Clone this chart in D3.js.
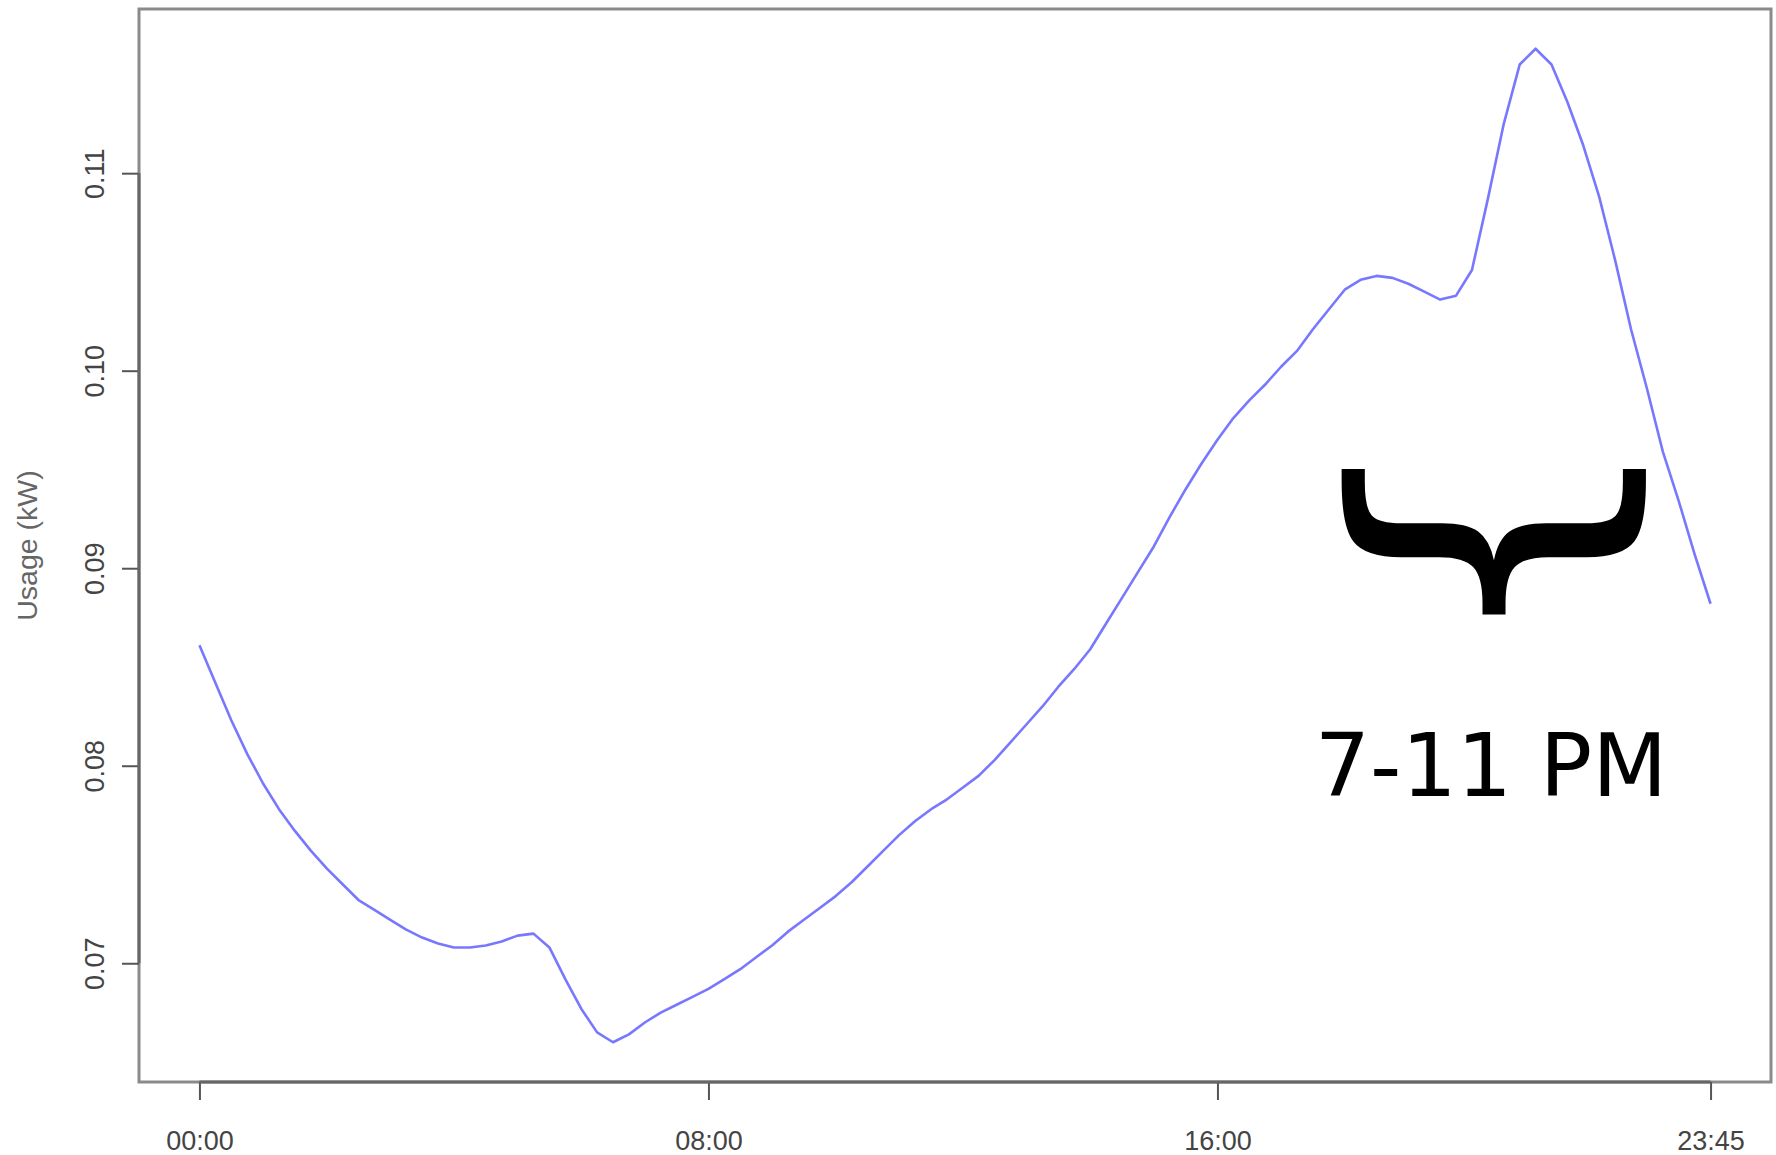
<!DOCTYPE html>
<html><head><meta charset="utf-8">
<script src="https://cdn.jsdelivr.net/npm/d3@7"></script>
<style>html,body{margin:0;padding:0;background:#fff;} svg{display:block;}</style>
</head><body>
<svg id="chart" width="1776" height="1155"></svg>
<script>
// ---- data (96 quarter-hour readings, kW) ----
const usage = [
  0.0861, 0.0842, 0.0823, 0.0806, 0.0791, 0.0778, 0.0767, 0.0757, 0.0748, 0.0740,
  0.0732, 0.0727, 0.0722, 0.0717, 0.0713, 0.0710, 0.0708, 0.0708, 0.0709, 0.0711,
  0.0714, 0.0715, 0.0708, 0.0692, 0.0677, 0.0665, 0.0660, 0.0664, 0.0670, 0.0675,
  0.0679, 0.0683, 0.0687, 0.0692, 0.0697, 0.0703, 0.0709, 0.0716, 0.0722, 0.0728,
  0.0734, 0.0741, 0.0749, 0.0757, 0.0765, 0.0772, 0.0778, 0.0783, 0.0789, 0.0795,
  0.0803, 0.0812, 0.0821, 0.0830, 0.0840, 0.0849, 0.0859, 0.0872, 0.0885, 0.0898,
  0.0911, 0.0926, 0.0940, 0.0953, 0.0965, 0.0976, 0.0985, 0.0993, 0.1002, 0.1010,
  0.1021, 0.1031, 0.1041, 0.1046, 0.1048, 0.1047, 0.1044, 0.1040, 0.1036, 0.1038,
  0.1051, 0.1087, 0.1125, 0.1155, 0.1163, 0.1155, 0.1136, 0.1114, 0.1088, 0.1056,
  0.1021, 0.0991, 0.0959, 0.0934, 0.0907, 0.0882
];
const xTickIndex = [0, 32, 64, 95];
const xTickLabels = ["00:00", "08:00", "16:00", "23:45"];
const yTicks = [0.07, 0.08, 0.09, 0.10, 0.11];
const yTickLabels = ["0.07", "0.08", "0.09", "0.10", "0.11"];
const yTitle = "Usage (kW)";
const annotationLabel = "7-11 PM";
const braceGlyph = "}";

// ---- layout ----
const W = 1776, H = 1155;
const plot = {left: 139, right: 1771, top: 9, bottom: 1082};
const svg = d3.select("#chart");
const axisFont = "'Liberation Sans', Arial, Helvetica, sans-serif";

// R-style 4% axis extension
const n = usage.length;
const xPad = 0.04 * (n - 1);
const x = d3.scaleLinear().domain([0 - xPad, (n - 1) + xPad]).range([plot.left, plot.right]);
const [ymin, ymax] = d3.extent(usage);
const yPad = 0.04 * (ymax - ymin);
const y = d3.scaleLinear().domain([ymin - yPad, ymax + yPad]).range([plot.bottom, plot.top]);

// box
svg.append("rect")
  .attr("x", plot.left).attr("y", plot.top)
  .attr("width", plot.right - plot.left).attr("height", plot.bottom - plot.top)
  .attr("fill", "none").attr("stroke", "#8a8a8a").attr("stroke-width", 3);

// y axis
const gy = svg.append("g").attr("transform", `translate(${plot.left},0)`)
  .call(d3.axisLeft(y).tickValues(yTicks).tickFormat((d, i) => yTickLabels[i]).tickSize(17).tickSizeOuter(0));
gy.select(".domain").remove();
gy.append("line").attr("x1", 0).attr("x2", 0)
  .attr("y1", y(yTicks[0])).attr("y2", y(yTicks[yTicks.length - 1]))
  .attr("stroke", "#666").attr("stroke-width", 3);
gy.selectAll(".tick line").attr("stroke", "#555").attr("stroke-width", 2);
gy.selectAll(".tick text")
  .attr("x", null).attr("dy", null)
  .attr("transform", "translate(-35,0) rotate(-90)")
  .attr("text-anchor", "middle")
  .attr("font-family", axisFont).attr("font-size", 27).attr("fill", "#444");

// x axis
const gx = svg.append("g").attr("transform", `translate(0,${plot.bottom})`)
  .call(d3.axisBottom(x).tickValues(xTickIndex).tickFormat((d, i) => xTickLabels[i]).tickSize(18).tickSizeOuter(0));
gx.select(".domain").remove();
gx.append("line").attr("y1", 0).attr("y2", 0)
  .attr("x1", x(xTickIndex[0])).attr("x2", x(xTickIndex[xTickIndex.length - 1]))
  .attr("stroke", "#666").attr("stroke-width", 3);
gx.selectAll(".tick line").attr("stroke", "#555").attr("stroke-width", 2);
gx.selectAll(".tick text")
  .attr("y", 68).attr("dy", null)
  .attr("font-family", axisFont).attr("font-size", 27).attr("fill", "#444");

// y title
svg.append("text")
  .attr("transform", `translate(37,${(plot.top + plot.bottom) / 2}) rotate(-90)`)
  .attr("text-anchor", "middle")
  .attr("font-family", axisFont).attr("font-size", 28.5).attr("fill", "#666")
  .text(yTitle);

// line
const line = d3.line().x((d, i) => x(i)).y(d => y(d));
svg.append("path").datum(usage)
  .attr("d", line)
  .attr("fill", "none").attr("stroke", "#7878ff").attr("stroke-width", 2.6)
  .attr("stroke-linejoin", "round");

// annotation: brace glyph rotated and fitted into its box
const annFont = "'DejaVu Sans', Verdana, sans-serif";
const braceBox = {x0: 1341, x1: 1646, y0: 469, y1: 616};
const F = 200;
const ctx = document.createElement("canvas").getContext("2d");
ctx.font = `${F}px 'DejaVu Sans'`;
const m = ctx.measureText(braceGlyph);
const L = m.actualBoundingBoxLeft, R = m.actualBoundingBoxRight;
const A = m.actualBoundingBoxAscent, D = m.actualBoundingBoxDescent;
const inkW = L + R, inkH = A + D;
const sx = (braceBox.y1 - braceBox.y0) / inkW;   // becomes vertical after rotation
const sy = (braceBox.x1 - braceBox.x0) / inkH;   // becomes horizontal after rotation
const icx = (R - L) / 2, icy = (D - A) / 2;
const bcx = (braceBox.x0 + braceBox.x1) / 2, bcy = (braceBox.y0 + braceBox.y1) / 2;
svg.append("text")
  .attr("x", 0).attr("y", 0)
  .attr("font-family", annFont).attr("font-size", F).attr("fill", "#000")
  .attr("transform", `translate(${bcx},${bcy}) rotate(90) scale(${sx},${sy}) translate(${-icx},${-icy})`)
  .text(braceGlyph);

svg.append("text")
  .attr("x", 1491).attr("y", 796)
  .attr("text-anchor", "middle")
  .attr("font-family", annFont).attr("font-size", 87).attr("fill", "#000")
  .text(annotationLabel);
</script>
</body></html>
